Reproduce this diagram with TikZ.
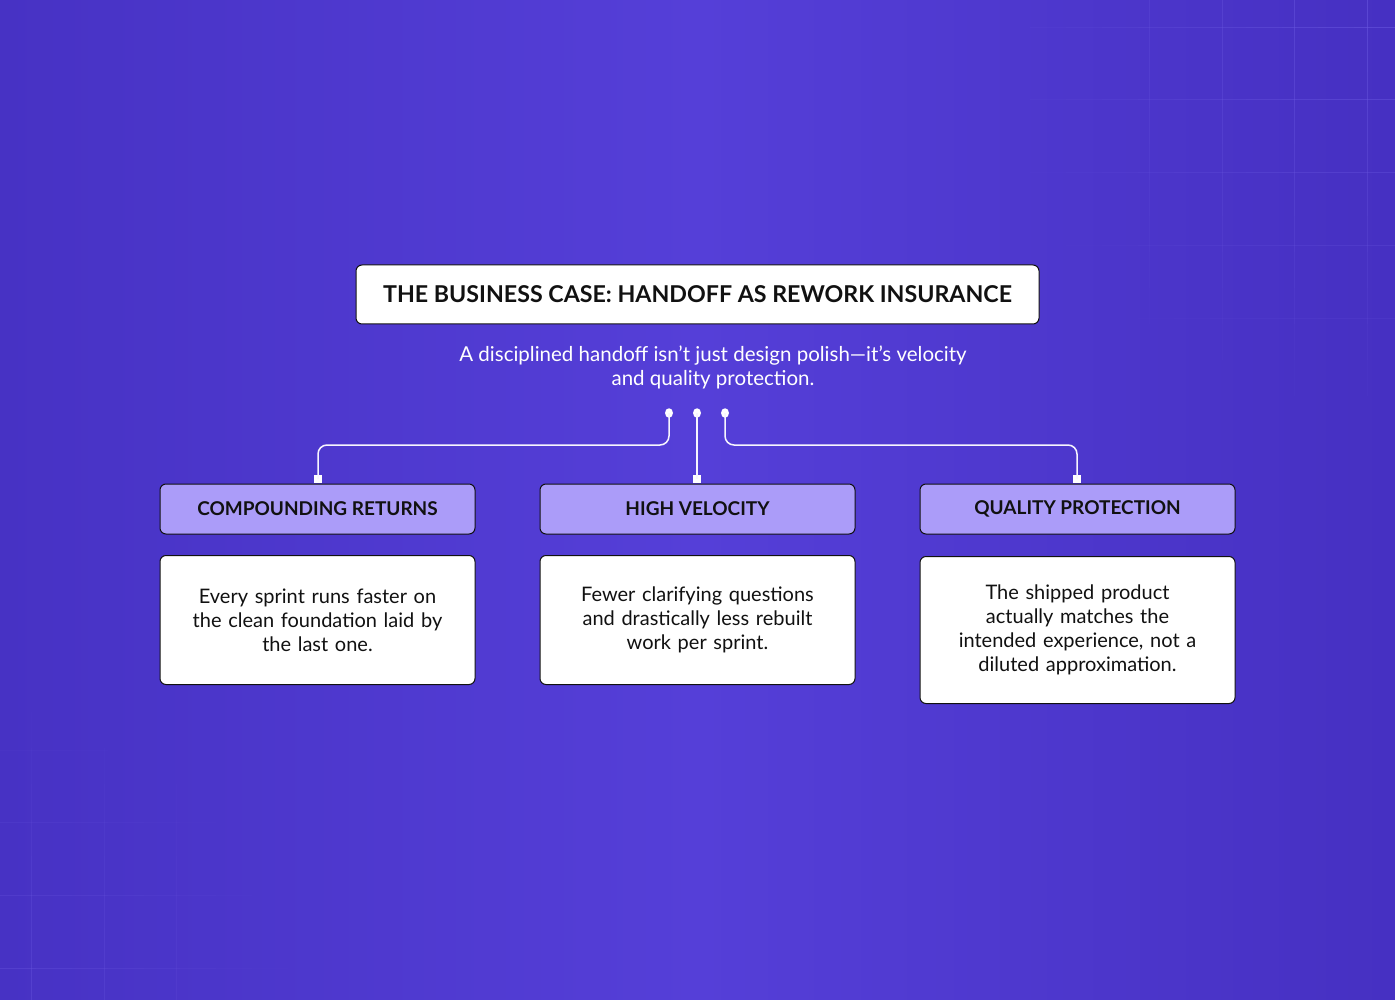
\documentclass[tikz,border=0pt]{standalone}
\usepackage{fontspec}
\setmainfont{Lato}
\usetikzlibrary{shadings,shapes.geometric}
\definecolor{bgL}{HTML}{4732C4}
\definecolor{bgM}{HTML}{553FD8}
\definecolor{bgR}{HTML}{4630C2}
\definecolor{hdr}{HTML}{AB9CF9}
\definecolor{ink}{HTML}{111111}
\definecolor{gridc}{HTML}{6A58E0}
\tikzset{
  titlebox/.style={draw=ink, line width=1pt, fill=white, rounded corners=6pt, minimum width=683pt, minimum height=59pt, font=\fontsize{23.2}{27}\selectfont\bfseries, text=ink},
  hdrbox/.style={draw=ink, line width=1pt, fill=hdr, rounded corners=6pt, minimum width=315pt, minimum height=50pt, font=\fontsize{19}{23}\selectfont\bfseries, text=ink},
  bodybox/.style={draw=ink, line width=1pt, fill=white, rounded corners=6pt, minimum width=315pt, text width=300pt, align=center, font=\fontsize{20}{24}\selectfont, text=ink},
  conn/.style={draw=white!90!hdr, line width=1.5pt, rounded corners=9pt},
  dotc/.style={ellipse, fill=white, inner sep=0pt, minimum width=8pt, minimum height=9.5pt},
  sq/.style={rectangle, fill=white, inner sep=0pt, minimum size=8pt},
  gline/.style={draw=gridc, line width=1pt}
}
\begin{document}
\begin{tikzpicture}[x=1pt,y=-1pt]
\useasboundingbox (0,0) rectangle (1395,1000);
\shade[left color=bgL, right color=bgR, middle color=bgM] (0,0) rectangle (1395,1000);
% faint grid, top right (fading away from corner)
\foreach \x in {1149,1222,1294,1367} {
  \foreach \y in {0,36,...,396} {
    \pgfmathsetmacro{\op}{max(0,0.6*(1-veclen(1395-\x,\y+18)/430))}
    \draw[gline, opacity=\op] (\x,\y) -- (\x,\y+36);
  }
}
\foreach \y in {28,100,173,246,319} {
  \foreach \x in {1030,1066,...,1390} {
    \pgfmathsetmacro{\op}{max(0,0.6*(1-veclen(1377-\x,\y)/430))}
    \draw[gline, opacity=\op] (\x,\y) -- (\x+36,\y);
  }
}
% faint grid, bottom left
\foreach \x in {31,104,176} {
  \foreach \y in {712,748,...,964} {
    \pgfmathsetmacro{\op}{max(0,0.4*(1-veclen(\x,982-\y)/300))}
    \draw[gline, opacity=\op] (\x,\y) -- (\x,\y+36);
  }
}
\foreach \y in {750,822,895,968} {
  \foreach \x in {0,36,...,252} {
    \pgfmathsetmacro{\op}{max(0,0.4*(1-veclen(\x+18,1000-\y)/300))}
    \draw[gline, opacity=\op] (\x,\y) -- (\x+36,\y);
  }
}
% title
\node[titlebox] (title) at (697.5,294.5) {THE BUSINESS CASE: HANDOFF AS REWORK INSURANCE};
\node[align=center, text=white, font=\fontsize{20.5}{24}\selectfont] (sub) at (713,367) {A disciplined handoff isn’t just design polish—it’s velocity\\and quality protection.};
% dots
\node[dotc] (d1) at (669,413) {};
\node[dotc] (d2) at (697,413) {};
\node[dotc] (d3) at (725,413) {};
% headers
\node[hdrbox] (h1) at (317.5,509) {COMPOUNDING RETURNS};
\node[hdrbox] (h2) at (697.5,509) {HIGH VELOCITY};
\node[hdrbox] (h3) at (1077.5,509) {QUALITY PROTECTION};
% squares
\node[sq] (s1) at (318,479) {};
\node[sq] (s2) at (697,479) {};
\node[sq] (s3) at (1077,479) {};
% connectors
\draw[conn] (d1.center) -- (669,445) -- (318,445) -- (s1.center);
\draw[conn] (d2.center) -- (s2.center);
\draw[conn] (d3.center) -- (725,445) -- (1077,445) -- (s3.center);
% bodies
\node[bodybox, minimum height=129pt] (b1) at (317.5,620) {Every sprint runs faster on\\the clean foundation laid by\\the last one.};
\node[bodybox, minimum height=129pt] (b2) at (697.5,620) {Fewer clarifying questions\\and drastically less rebuilt\\work per sprint.};
\node[bodybox, minimum height=147pt] (b3) at (1077.5,630) {The shipped product\\actually matches the\\intended experience, not a\\diluted approximation.};
\end{tikzpicture}
\end{document}
